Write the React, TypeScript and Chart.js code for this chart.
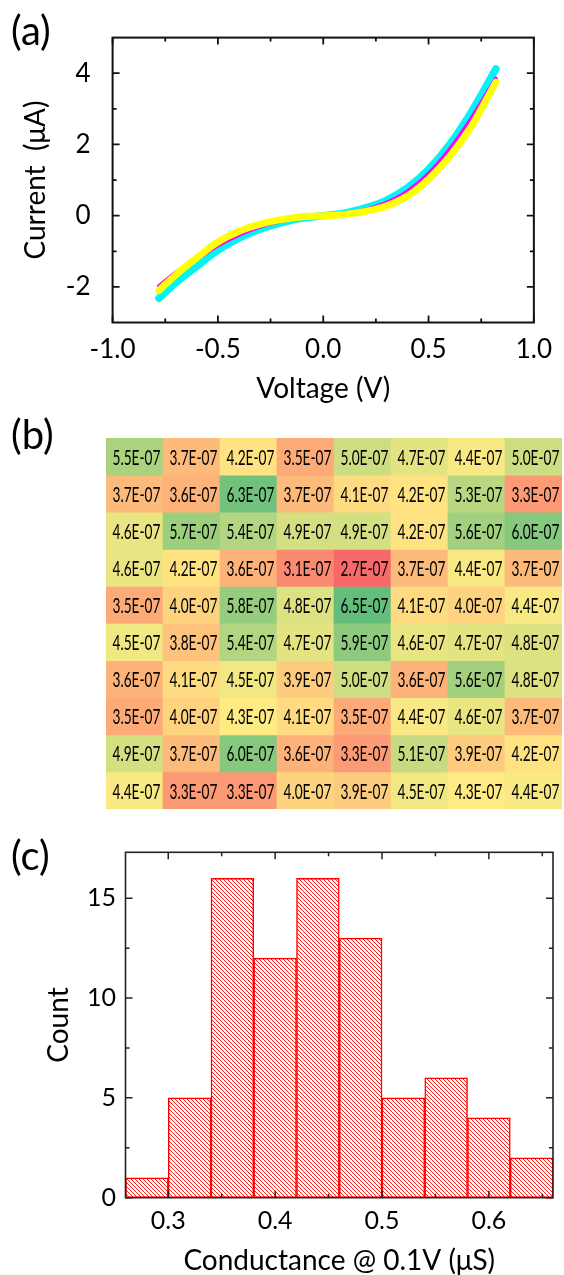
import React, { useEffect, useRef } from "react";
import { Chart, registerables } from "chart.js";

Chart.register(...registerables);

const FONT = "Lato";

// ---------- (a) I–V curves ----------
const voltage = [-0.78, -0.7, -0.6, -0.5, -0.4, -0.3, -0.2, -0.1, 0, 0.1, 0.2, 0.3, 0.4, 0.5, 0.6, 0.7, 0.82];
const currentCyan = [-2.32, -1.88, -1.42, -0.97, -0.63, -0.38, -0.2, -0.07, 0, 0.07, 0.22, 0.43, 0.78, 1.3, 2.0, 2.88, 4.12];
const currentMagenta = [-1.98, -1.6, -1.22, -0.84, -0.54, -0.31, -0.15, -0.05, 0, 0.05, 0.17, 0.36, 0.68, 1.18, 1.86, 2.7, 3.85];
const currentYellow = [-2.1, -1.66, -1.18, -0.74, -0.44, -0.24, -0.11, -0.03, 0, 0.03, 0.12, 0.27, 0.55, 1.02, 1.66, 2.48, 3.75];
const ivXTicks = [-1, -0.5, 0, 0.5, 1];
const ivXMinor = [-0.75, -0.25, 0.25, 0.75];
const ivYTicks = [-2, 0, 2, 4];
const ivYMinor = [-1, 1, 3];

// ---------- (b) conductance map ----------
const mapColumns = ["C1", "C2", "C3", "C4", "C5", "C6", "C7", "C8"];
const mapRow1 = [5.5e-7, 3.7e-7, 4.2e-7, 3.5e-7, 5.0e-7, 4.7e-7, 4.4e-7, 5.0e-7];
const mapRow2 = [3.7e-7, 3.6e-7, 6.3e-7, 3.7e-7, 4.1e-7, 4.2e-7, 5.3e-7, 3.3e-7];
const mapRow3 = [4.6e-7, 5.7e-7, 5.4e-7, 4.9e-7, 4.9e-7, 4.2e-7, 5.6e-7, 6.0e-7];
const mapRow4 = [4.6e-7, 4.2e-7, 3.6e-7, 3.1e-7, 2.7e-7, 3.7e-7, 4.4e-7, 3.7e-7];
const mapRow5 = [3.5e-7, 4.0e-7, 5.8e-7, 4.8e-7, 6.5e-7, 4.1e-7, 4.0e-7, 4.4e-7];
const mapRow6 = [4.5e-7, 3.8e-7, 5.4e-7, 4.7e-7, 5.9e-7, 4.6e-7, 4.7e-7, 4.8e-7];
const mapRow7 = [3.6e-7, 4.1e-7, 4.5e-7, 3.9e-7, 5.0e-7, 3.6e-7, 5.6e-7, 4.8e-7];
const mapRow8 = [3.5e-7, 4.0e-7, 4.3e-7, 4.1e-7, 3.5e-7, 4.4e-7, 4.6e-7, 3.7e-7];
const mapRow9 = [4.9e-7, 3.7e-7, 6.0e-7, 3.6e-7, 3.3e-7, 5.1e-7, 3.9e-7, 4.2e-7];
const mapRow10 = [4.4e-7, 3.3e-7, 3.3e-7, 4.0e-7, 3.9e-7, 4.5e-7, 4.3e-7, 4.4e-7];
const mapRows = [mapRow1, mapRow2, mapRow3, mapRow4, mapRow5, mapRow6, mapRow7, mapRow8, mapRow9, mapRow10];
const mapCellUnit = 1; // each cell occupies one row unit in the stack

// ---------- (c) histogram ----------
const binCenters = [0.28, 0.32, 0.36, 0.4, 0.44, 0.48, 0.52, 0.56, 0.6, 0.64];
const binCounts = [1, 5, 16, 12, 16, 13, 5, 6, 4, 2];
const histXTicks = [0.3, 0.4, 0.5, 0.6];
const histXMinor = [0.35, 0.45, 0.55, 0.65];
const histYTicks = [0, 5, 10, 15];
const histYMinor = [2.5, 7.5, 12.5];

// ---------- helpers ----------
const framePlugin = {
  id: "frame",
  afterDraw(chart: any, _args: any, opts: any) {
    const { ctx, chartArea } = chart;
    const { left, right, top, bottom } = chartArea;
    const xs = chart.scales.x;
    const ys = chart.scales.y;
    ctx.save();
    ctx.strokeStyle = opts.color || "#111";
    ctx.lineWidth = opts.tickWidth || 1.5;
    ctx.beginPath();
    const vt = (v: number, len: number) => {
      const px = xs.getPixelForValue(v);
      ctx.moveTo(px, bottom);
      ctx.lineTo(px, bottom - len);
      ctx.moveTo(px, top);
      ctx.lineTo(px, top + len);
    };
    const ht = (v: number, len: number) => {
      const py = ys.getPixelForValue(v);
      ctx.moveTo(left, py);
      ctx.lineTo(left + len, py);
      ctx.moveTo(right, py);
      ctx.lineTo(right - len, py);
    };
    (opts.xMajor || []).forEach((v: number) => vt(v, opts.majorLen));
    (opts.xMinor || []).forEach((v: number) => vt(v, opts.minorLen));
    (opts.yMajor || []).forEach((v: number) => ht(v, opts.majorLen));
    (opts.yMinor || []).forEach((v: number) => ht(v, opts.minorLen));
    ctx.stroke();
    ctx.lineWidth = opts.lineWidth || 2;
    ctx.strokeRect(left, top, right - left, bottom - top);
    ctx.restore();
  },
};

const LOW = [248, 105, 107];
const MID = [255, 235, 132];
const HIGH = [99, 190, 123];

function lerp(a: number[], b: number[], t: number) {
  return `rgb(${a.map((c, i) => Math.round(c + (b[i] - c) * t)).join(",")})`;
}

function percentile(arr: number[], p: number) {
  const s = [...arr].sort((a, b) => a - b);
  const idx = (s.length - 1) * p;
  const lo = Math.floor(idx);
  const hi = Math.ceil(idx);
  return s[lo] + (s[hi] - s[lo]) * (idx - lo);
}

function formatSci(v: number) {
  const exp = Math.floor(Math.log10(v) + 1e-9);
  const mant = v / Math.pow(10, exp);
  const sign = exp < 0 ? "-" : "+";
  const e = Math.abs(exp).toString().padStart(2, "0");
  return `${mant.toFixed(1)}E${sign}${e}`;
}

function useChart(build: (canvas: HTMLCanvasElement) => Chart) {
  const ref = useRef<HTMLCanvasElement | null>(null);
  useEffect(() => {
    if (!ref.current) return;
    const chart = build(ref.current);
    return () => chart.destroy();
  }, []);
  return ref;
}

function IVChart() {
  const ref = useChart((canvas) => {
    const mk = (ys: number[]) => voltage.map((v, i) => ({ x: v, y: ys[i] }));
    return new Chart(canvas, {
      type: "line",
      data: {
        datasets: [
          { label: "cyan", data: mk(currentCyan), borderColor: "#00F5F5", borderWidth: 7.5, order: 3 },
          { label: "magenta", data: mk(currentMagenta), borderColor: "#FF00FF", borderWidth: 4, order: 2 },
          { label: "yellow", data: mk(currentYellow), borderColor: "#FFFF00", borderWidth: 7, order: 1 },
        ].map((d) => ({ ...d, pointRadius: 0, cubicInterpolationMode: "monotone" as const, borderCapStyle: "round" as const, fill: false })),
      },
      options: {
        responsive: false,
        animation: false,
        events: [],
        layout: { padding: { top: 12.3, right: 11, left: 0, bottom: 0 } },
        plugins: {
          legend: { display: false },
          tooltip: { enabled: false },
          frame: { xMajor: ivXTicks, xMinor: ivXMinor, yMajor: ivYTicks, yMinor: ivYMinor, majorLen: 7, minorLen: 4, lineWidth: 2, tickWidth: 1.8, color: "#111" },
        } as any,
        scales: {
          x: {
            type: "linear",
            min: -1,
            max: 1,
            afterBuildTicks: (s: any) => { s.ticks = ivXTicks.map((v) => ({ value: v })); },
            afterFit: (s: any) => { s.height = 97.5; },
            grid: { display: false, drawTicks: false },
            border: { display: false },
            ticks: { color: "#000", font: { family: FONT, size: 26 }, padding: 12, callback: (v: any) => Number(v).toFixed(1), maxRotation: 0 },
            title: { display: true, text: "Voltage (V)", color: "#000", font: { family: FONT, size: 28 }, padding: { top: 0, bottom: 14 } },
          },
          y: {
            type: "linear",
            min: -3,
            max: 5,
            afterBuildTicks: (s: any) => { s.ticks = ivYTicks.map((v) => ({ value: v })); },
            afterFit: (s: any) => { s.width = 112.6; },
            grid: { display: false, drawTicks: false },
            border: { display: false },
            ticks: { color: "#000", font: { family: FONT, size: 26 }, padding: 22 },
            title: { display: true, text: "Current  (μA)", color: "#000", font: { family: FONT, size: 28 }, padding: { top: 19, bottom: 0 } },
          },
        },
      },
      plugins: [framePlugin],
    } as any);
  });
  return <canvas ref={ref} width={564} height={420} style={{ position: "absolute", left: 0, top: 0, width: 564, height: 420 }} />;
}

function MapChart() {
  const ref = useChart((canvas) => {
    const all = mapRows.flat();
    const min = Math.min(...all);
    const max = Math.max(...all);
    const mid = percentile(all, 0.5);
    const colorFor = (v: number) => (v <= mid ? lerp(LOW, MID, (v - min) / (mid - min)) : lerp(MID, HIGH, (v - mid) / (max - mid)));
    const textPlugin = {
      id: "cellText",
      afterDatasetsDraw(chart: any) {
        const ctx = chart.ctx;
        ctx.save();
        ctx.fillStyle = "#000";
        ctx.font = `22px ${FONT}`;
        ctx.textAlign = "center";
        ctx.textBaseline = "middle";
        mapRows.forEach((row, r) => {
          const meta = chart.getDatasetMeta(r);
          row.forEach((v, c) => {
            const el = meta.data[c];
            const cy = (el.y + el.base) / 2;
            ctx.fillText(formatSci(v), el.x + 2, cy + 1, 48);
          });
        });
        ctx.restore();
      },
    };
    return new Chart(canvas, {
      type: "bar",
      data: {
        labels: mapColumns,
        datasets: mapRows.map((row, r) => ({
          label: `row${r + 1}`,
          data: row.map(() => mapCellUnit),
          backgroundColor: row.map(colorFor),
          borderWidth: 0,
          barPercentage: 1,
          categoryPercentage: 1,
        })),
      },
      options: {
        responsive: false,
        animation: false,
        events: [],
        layout: { padding: { left: 106, right: 2, top: 18, bottom: 11 } },
        plugins: { legend: { display: false }, tooltip: { enabled: false } },
        scales: {
          x: { type: "category", stacked: true, display: false },
          y: { type: "linear", stacked: true, display: false, min: 0, max: mapRows.length, reverse: true },
        },
      },
      plugins: [textPlugin],
    } as any);
  });
  return <canvas ref={ref} width={564} height={400} style={{ position: "absolute", left: 0, top: 420, width: 564, height: 400 }} />;
}

function makeHatch(): CanvasPattern | string {
  const c = document.createElement("canvas");
  c.width = 4;
  c.height = 4;
  const g = c.getContext("2d");
  if (!g) return "#fff";
  g.fillStyle = "#fff";
  g.fillRect(0, 0, 4, 4);
  for (let i = 0; i < 4; i++) {
    g.fillStyle = "#ff2020";
    g.fillRect(i, i, 1, 1);
  }
  const p = g.createPattern(c, "repeat");
  return p || "#fff";
}

function HistChart() {
  const ref = useChart((canvas) => {
    return new Chart(canvas, {
      type: "bar",
      data: {
        datasets: [
          {
            label: "Count",
            data: binCenters.map((x, i) => ({ x, y: binCounts[i] })),
            backgroundColor: makeHatch(),
            borderColor: "#FF0000",
            borderWidth: 1.5,
            borderSkipped: false,
            barPercentage: 1,
            categoryPercentage: 1,
          },
        ],
      },
      options: {
        responsive: false,
        animation: false,
        events: [],
        layout: { padding: { top: 32.3, right: 11, left: 0, bottom: 0 } },
        plugins: {
          legend: { display: false },
          tooltip: { enabled: false },
          frame: { xMajor: histXTicks, xMinor: histXMinor, yMajor: histYTicks, yMinor: histYMinor, majorLen: 7, minorLen: 4, lineWidth: 1.6, tickWidth: 1.5, color: "#222" },
        } as any,
        scales: {
          x: {
            type: "linear",
            min: 0.26,
            max: 0.66,
            offset: false,
            afterBuildTicks: (s: any) => { s.ticks = histXTicks.map((v) => ({ value: v })); },
            afterFit: (s: any) => { s.height = 77.3; },
            grid: { display: false, drawTicks: false },
            border: { display: false },
            ticks: { color: "#000", font: { family: FONT, size: 25 }, padding: 8, callback: (v: any) => Number(v).toFixed(1), maxRotation: 0 },
            title: { display: true, text: "Conductance @ 0.1V (μS)", color: "#000", font: { family: FONT, size: 28 }, padding: { top: 0, bottom: -3 } },
          },
          y: {
            type: "linear",
            min: 0,
            max: 17.3,
            afterBuildTicks: (s: any) => { s.ticks = histYTicks.map((v) => ({ value: v })); },
            afterFit: (s: any) => { s.width = 125.5; },
            grid: { display: false, drawTicks: false },
            border: { display: false },
            ticks: { color: "#000", font: { family: FONT, size: 25 }, padding: 9.5 },
            title: { display: true, text: "Count", color: "#000", font: { family: FONT, size: 28 }, padding: { top: 42, bottom: 0 } },
          },
        },
      },
      plugins: [framePlugin],
    } as any);
  });
  return <canvas ref={ref} width={564} height={455} style={{ position: "absolute", left: 0, top: 820, width: 564, height: 455 }} />;
}

const labelStyle: React.CSSProperties = {
  position: "absolute",
  left: 11,
  fontFamily: FONT,
  fontSize: 40,
  lineHeight: 1,
  color: "#000",
  whiteSpace: "nowrap",
};

export default function App() {
  return (
    <div style={{ position: "absolute", left: 0, top: 0, width: 564, height: 1275, background: "#fff", overflow: "hidden" }}>
      <IVChart />
      <MapChart />
      <HistChart />
      <div style={{ ...labelStyle, top: 9.5 }}>(a)</div>
      <div style={{ ...labelStyle, top: 414 }}>(b)</div>
      <div style={{ ...labelStyle, top: 834.5 }}>(c)</div>
    </div>
  );
}
